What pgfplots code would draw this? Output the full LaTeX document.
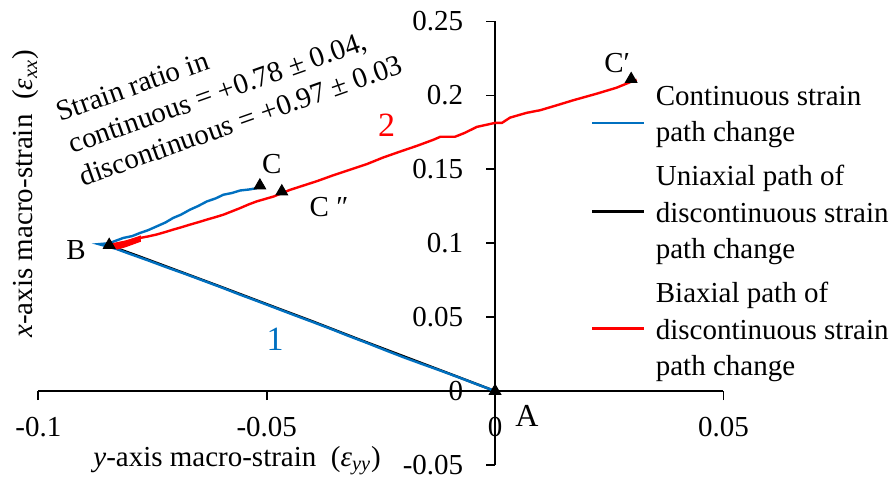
\documentclass[border=0pt]{standalone}
\usepackage{fontspec}
\setmainfont{Liberation Serif}
\usepackage{pgfplots}
\pgfplotsset{compat=1.18}
\definecolor{xlblue}{RGB}{0,112,192}
\definecolor{xlred}{RGB}{255,0,0}
\newcommand{\fs}{\fontsize{14.5}{17.5}\selectfont}
\newcommand{\lfs}{\fontsize{14.5}{17.5}\selectfont}
\newcommand{\rs}{\rule[-5.25pt]{0pt}{17.5pt}}
\newcommand{\rt}{\rule[-5.25pt]{0pt}{21.25pt}}
\begin{document}
\begin{tikzpicture}
\begin{axis}[
  at={(0,0)}, anchor=south west,
  scale only axis, width=342.5pt, height=221.75pt,
  xmin=-0.1, xmax=0.05, ymin=-0.05, ymax=0.25,
  axis lines=middle,
  axis line style={-, line width=0.9pt},
  every inner x axis line/.append style={-},
  every inner y axis line/.append style={-},
  hide obscured x ticks=false, hide obscured y ticks=false,
  xtick={-0.1,-0.05,0,0.05}, xticklabels={-0.1,-0.05,0,0.05},
  ytick={-0.05,0,0.05,0.1,0.15,0.2,0.25},
  yticklabels={-0.05,0,0.05,0.1,0.15,0.2,0.25},
  tick align=center, major tick length=4.5pt,
  xtick style={black, line width=0.9pt, yshift=-2.25pt},
  ytick style={black, line width=0.9pt, xshift=-2.25pt},
  tick label style={font=\fs},
  xticklabel style={anchor=north, inner sep=0pt, yshift=-10.4pt},
  yticklabel style={anchor=east, inner sep=0pt, xshift=-13.5pt},
  every axis x label/.style={at={(rel axis cs:0.29,-0.003)}, anchor=base, inner sep=0pt, font=\fs},
  every axis y label/.style={at={(rel axis cs:-0.008,0.6113)}, anchor=base, rotate=90, inner sep=0pt, font=\fs},
  xlabel={\textit{y}-axis macro-strain\ \ (\textit{ε}\textsubscript{\textit{yy}})},
  ylabel={\textit{x}-axis macro-strain\ \ (\textit{ε}\textsubscript{\textit{xx}})},
  clip=false,
  legend style={at={(rel axis cs:0.8068,0.8660)}, anchor=north west, draw=none, fill=none,
    inner sep=0pt, outer sep=0pt, row sep=4.5pt, font=\lfs,
    nodes={inner sep=0pt, outer sep=0pt},
    /tikz/every odd column/.append style={column sep=5.2pt}},
  legend cell align=left,
  legend image code/.code={\draw[#1] (0pt,0pt) -- (26pt,0pt);},
]
% uniaxial path (black)
\addplot[black, line width=1.2pt, forget plot] coordinates {
(0,0) (-0.010,0.0118) (-0.020,0.0235) (-0.030,0.0352) (-0.040,0.0472)
(-0.050,0.0588) (-0.060,0.0705) (-0.070,0.0820) (-0.078,0.0912) (-0.085,0.0990)
};
% continuous (blue)
\addplot[xlblue, line width=1.2pt, forget plot] coordinates {
(0,0) (-0.0040,0.0046) (-0.0080,0.0093) (-0.0120,0.0139) (-0.0160,0.0183)
(-0.0200,0.0228) (-0.0240,0.0276) (-0.0280,0.0325) (-0.0320,0.0372)
(-0.0360,0.0421) (-0.0400,0.0468) (-0.0440,0.0514) (-0.0480,0.0561)
(-0.0520,0.0608) (-0.0560,0.0654) (-0.0600,0.0702) (-0.0640,0.0748)
(-0.0680,0.0794) (-0.0720,0.0838) (-0.0760,0.0884) (-0.0800,0.0928)
(-0.0830,0.0962) (-0.0855,0.0983) (-0.0868,0.0994)
(-0.0845,0.1000) (-0.0814,0.1036) (-0.0795,0.1048) (-0.0777,0.1070)
(-0.0760,0.1088) (-0.0741,0.1114) (-0.0722,0.1140) (-0.0705,0.1171)
(-0.0688,0.1193) (-0.0668,0.1227) (-0.0650,0.1252) (-0.0631,0.1283)
(-0.0612,0.1303) (-0.0595,0.1328) (-0.0576,0.1340) (-0.0558,0.1357)
(-0.0540,0.1363) (-0.0522,0.1372)
};
% biaxial (red): wedge of scattered points near B
\addplot[fill=xlred, draw=xlred, line width=0.6pt, forget plot] coordinates {
(-0.0845,0.0988) (-0.0810,0.1012) (-0.0777,0.1047) (-0.0777,0.1013)
(-0.0810,0.0976) (-0.0829,0.0960)
};
% biaxial (red)
\addplot[xlred, line width=1.2pt, forget plot] coordinates {
(-0.0845,0.0988) (-0.0810,0.1010) (-0.0777,0.1036) (-0.0760,0.1046) (-0.0741,0.1059)
(-0.0723,0.1075) (-0.0705,0.1092) (-0.0687,0.1108) (-0.0668,0.1126)
(-0.0650,0.1142) (-0.0631,0.1160) (-0.0613,0.1176) (-0.0595,0.1193)
(-0.0576,0.1216) (-0.0558,0.1238) (-0.0540,0.1262) (-0.0522,0.1283)
(-0.0485,0.1316) (-0.0449,0.1361) (-0.0430,0.1380) (-0.0390,0.1420)
(-0.0354,0.1460) (-0.0320,0.1495) (-0.0281,0.1535) (-0.0245,0.1580)
(-0.0208,0.1620) (-0.0170,0.1660) (-0.0135,0.1700) (-0.0120,0.1720)
(-0.0088,0.1720) (-0.0066,0.1747) (-0.0040,0.1787) (0.0000,0.1814)
(0.0015,0.1814) (0.0033,0.1850) (0.0069,0.1882) (0.0099,0.1900)
(0.0135,0.1933) (0.0171,0.1967) (0.0223,0.2012) (0.0266,0.2052)
(0.0296,0.2090) (0.0310,0.2106)
};
% points A, B, C, C'', C'
\addplot[only marks, mark=triangle*, mark size=3.4pt, black, forget plot] coordinates {
(0,0) (-0.0845,0.0988) (-0.0515,0.1390) (-0.0467,0.1350) (0.0298,0.2110)
};
\addlegendimage{empty legend}
\addlegendentry{\rs Continuous strain}
\addlegendimage{xlblue, line width=1.2pt, yshift=4pt}
\addlegendentry{\rs path change}
\addlegendimage{empty legend}
\addlegendentry{\rt Uniaxial path of}
\addlegendimage{black, line width=1.2pt}
\addlegendentry{\rs discontinuous strain}
\addlegendimage{empty legend}
\addlegendentry{\rs path change}
\addlegendimage{empty legend}
\addlegendentry{\rt Biaxial path of}
\addlegendimage{xlred, line width=1.2pt}
\addlegendentry{\rs discontinuous strain}
\addlegendimage{empty legend}
\addlegendentry{\rs path change}
% annotations
\node[rotate=19.5, anchor=base west, inner sep=0pt, font=\fs] at (axis cs:-0.09527,0.1821) {Strain ratio in};
\node[rotate=19.5, anchor=base west, inner sep=0pt, font=\fs] at (axis cs:-0.09253,0.1604) {continuous = +0.78 ± 0.04,};
\node[rotate=19.5, anchor=base west, inner sep=0pt, font=\fs] at (axis cs:-0.09017,0.1384) {discontinuous = +0.97 ± 0.03};
\node[anchor=base, inner sep=0pt, font=\fs] at (axis cs:-0.09177,0.08903) {B};
\node[anchor=base, inner sep=0pt, font=\fs] at (axis cs:-0.0489,0.1474) {C};
\node[anchor=base, inner sep=0pt, font=\fs] at (axis cs:-0.03636,0.1182) {C ″};
\node[anchor=base, inner sep=0pt, font=\fs] at (axis cs:0.02672,0.2157) {C′};
\node[anchor=base, inner sep=0pt, font=\fontsize{16}{19}\selectfont] at (axis cs:0.0070,-0.0240) {A};
\node[anchor=base, inner sep=0pt, text=xlblue, font=\fontsize{17}{20}\selectfont] at (axis cs:-0.04818,0.0273) {1};
\node[anchor=base, inner sep=0pt, text=xlred, font=\fontsize{17}{20}\selectfont] at (axis cs:-0.02372,0.172) {2};
\end{axis}
\pgfresetboundingbox
\useasboundingbox (-19.2pt,-10pt) rectangle (427.3pt,232.5pt);
\end{tikzpicture}
\end{document}
